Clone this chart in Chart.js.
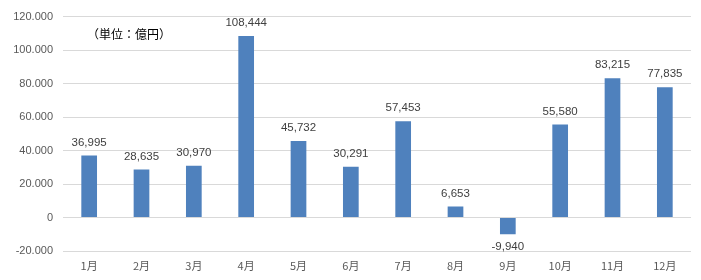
<!DOCTYPE html>
<html><head><meta charset="utf-8">
<script src="https://cdn.jsdelivr.net/npm/chart.js@4/dist/chart.umd.min.js"></script>
<style>html,body{margin:0;padding:0;background:#fff}#wrap{width:701px;height:280px}</style>
</head><body><div id="wrap"><canvas id="c" width="701" height="280"></canvas></div>
<script>
const categories = ['1月','2月','3月','4月','5月','6月','7月','8月','9月','10月','11月','12月'];
const values = [36995, 28635, 30970, 108444, 45732, 30291, 57453, 6653, -9940, 55580, 83215, 77835];
const yMin = -20000, yMax = 120000, yStep = 20000;
const unitLabel = '（単位：億円）';

const fontFam = '"Noto Sans CJK JP", "Noto Sans", sans-serif';
const numFam = '"Liberation Sans", "DejaVu Sans", sans-serif';

const labelPlugin = {
  id: 'labels',
  afterDatasetsDraw(chart) {
    const ctx = chart.ctx;
    const meta = chart.getDatasetMeta(0);
    ctx.save();
    ctx.font = '11.5px ' + numFam;
    ctx.fillStyle = '#404040';
    ctx.textAlign = 'center';
    ctx.textBaseline = 'middle';
    meta.data.forEach((bar, i) => {
      const v = values[i];
      const txt = v.toLocaleString('en-US');
      const y = v >= 0 ? bar.y - 13 : bar.y + 13;
      ctx.fillText(txt, bar.x, y);
    });
    ctx.fillStyle = '#000';
    ctx.textAlign = 'left';
    ctx.font = '12px ' + fontFam;
    ctx.fillText(unitLabel, 87, 34);
    ctx.restore();
  }
};

new Chart(document.getElementById('c'), {
  type: 'bar',
  data: { labels: categories, datasets: [{ data: values, backgroundColor: '#4f81bd', barPercentage: 0.6, categoryPercentage: 0.5 }] },
  options: {
    responsive: false, animation: false,
    layout: { padding: { top: 13, right: 10, left: 0, bottom: 0 } },
    plugins: { legend: { display: false }, tooltip: { enabled: false } },
    scales: {
      x: {
        grid: { display: false }, border: { display: false },
        ticks: { color: '#595959', font: { size: 11, family: fontFam }, padding: 0 },
        afterFit(s) { s.height = 29; }
      },
      y: {
        min: yMin, max: yMax,
        grid: { color: '#d9d9d9', drawTicks: false },
        border: { display: false },
        ticks: { stepSize: yStep, color: '#595959', font: { size: 11, family: numFam }, padding: 10,
          callback: v => v.toLocaleString('de-DE') },
        afterFit(s) { s.width = 63; }
      }
    }
  },
  plugins: [labelPlugin]
});
</script></body></html>
